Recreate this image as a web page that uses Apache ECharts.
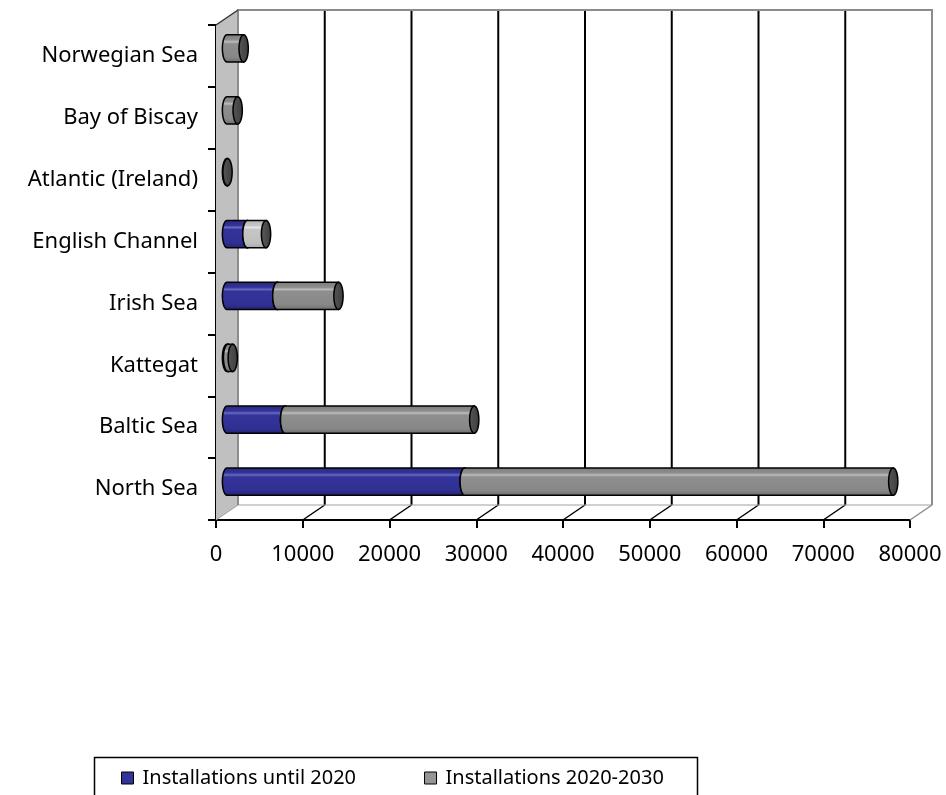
<!DOCTYPE html>
<html>
<head>
<meta charset="utf-8">
<script src="https://cdn.jsdelivr.net/npm/echarts@6/dist/echarts.min.js"></script>
<style>
  html, body { margin: 0; padding: 0; background: #ffffff; }
  #chart { width: 946px; height: 795px; }
</style>
</head>
<body>
<div id="chart"></div>
<script>
// Offshore wind capacity by sea basin (MW), bottom to top on the category axis
const regions = ['North Sea', 'Baltic Sea', 'Kattegat', 'Irish Sea', 'English Channel',
                 'Atlantic (Ireland)', 'Bay of Biscay', 'Norwegian Sea'];
const untilIn2020 = [27400, 6700, 120, 5800, 2350, 0, 0, 0];
const from2020To2030 = [49400, 21800, 540, 7050, 2150, 60, 1230, 1920];
const seriesNames = ['Installations until 2020', 'Installations 2020-2030'];
const AXIS_MAX = 80000;
const AXIS_STEP = 10000;

const FONT = 'Noto Sans';
const DEPTH_X = 22;   // horizontal shift of the back wall
const DEPTH_Y = -15;  // vertical shift of the back wall

const palettes = {
  blue: { stops: ['#28287e', '#33339a', '#6b6bbf', '#33339a', '#303094', '#222270'], cap: '#2c2c8a' },
  gray: { stops: ['#7b7b7b', '#8e8e8e', '#bdbdbd', '#8e8e8e', '#888888', '#6c6c6c'], cap: '#575757' },
  light: { stops: ['#b4b4b4', '#c6c6c6', '#e6e6e6', '#c6c6c6', '#bfbfbf', '#a8a8a8'], cap: '#5c5c5c' }
};
// the English Channel future segment is shown in a lighter grey
const lightSegments = { 'English Channel': true };

function bodyGradient(stops) {
  return new echarts.graphic.LinearGradient(0, 0, 0, 1, [
    { offset: 0, color: stops[0] },
    { offset: 0.2, color: stops[1] },
    { offset: 0.27, color: stops[2] },
    { offset: 0.34, color: stops[3] },
    { offset: 0.8, color: stops[4] },
    { offset: 1, color: stops[5] }
  ]);
}

function halfEllipse(cx, cy, rx, ry, fromDeg, toDeg, steps) {
  const pts = [];
  for (let i = 0; i <= steps; i++) {
    const a = (fromDeg + (toDeg - fromDeg) * i / steps) * Math.PI / 180;
    pts.push([cx + rx * Math.cos(a), cy + ry * Math.sin(a)]);
  }
  return pts;
}

function makeCylinderRenderer(paletteName) {
  return function (params, api) {
    const start = api.value(0);
    const end = api.value(1);
    const idx = api.value(2);
    if (!(end - start > 0)) return;
    const p0 = api.coord([start, idx]);
    const p1 = api.coord([end, idx]);
    const band = api.size([0, 1])[1];
    const ry = band * 0.22;
    const rx = ry * 0.34;
    const x0 = p0[0] + DEPTH_X / 2;
    const x1 = p1[0] + DEPTH_X / 2;
    const cy = p0[1] + DEPTH_Y / 2;
    let pal = palettes[paletteName];
    if (paletteName === 'gray' && lightSegments[regions[idx]]) pal = palettes.light;

    // body: rectangle closed on the left by the near half of the end ellipse
    const body = [[x0, cy - ry], [x1, cy - ry], [x1, cy + ry], [x0, cy + ry]]
      .concat(halfEllipse(x0, cy, rx, ry, 90, 270, 18));
    const cap = halfEllipse(x1, cy, rx, ry, 0, 360, 36);
    return {
      type: 'group',
      children: [
        { type: 'polygon', shape: { points: body },
          style: { fill: bodyGradient(pal.stops), stroke: '#000', lineWidth: 1.5 } },
        { type: 'polygon', shape: { points: cap },
          style: { fill: new echarts.graphic.LinearGradient(0, 0, 1, 0, [
                     { offset: 0, color: pal.cap }, { offset: 1, color: '#3c3c3c' }]),
                   stroke: '#000', lineWidth: 1.5 } }
      ]
    };
  };
}

// side wall, back wall, floor and back gridlines of the 3D frame
function renderFrame(params, api) {
  const cs = params.coordSys;
  const L = cs.x, T = cs.y, R = cs.x + cs.width, B = cs.y + cs.height;
  const dx = DEPTH_X, dy = DEPTH_Y;
  const kids = [];
  kids.push({ type: 'polygon', shape: { points: [[L, T], [L + dx, T + dy], [L + dx, B + dy], [L, B]] },
              style: { fill: '#c0c0c0' } });
  for (let v = AXIS_STEP; v < AXIS_MAX; v += AXIS_STEP) {
    const x = api.coord([v, 0])[0];
    kids.push({ type: 'line', shape: { x1: x + dx, y1: T + dy, x2: x + dx, y2: B + dy },
                style: { stroke: '#000', lineWidth: 2 } });
    kids.push({ type: 'line', shape: { x1: x, y1: B, x2: x + dx, y2: B + dy },
                style: { stroke: '#000', lineWidth: 1.5 } });
  }
  kids.push({ type: 'line', shape: { x1: L + dx, y1: B + dy, x2: R + dx, y2: B + dy },
              style: { stroke: '#a0a0a0', lineWidth: 1 } });
  kids.push({ type: 'line', shape: { x1: L, y1: B, x2: L + dx, y2: B + dy },
              style: { stroke: '#a0a0a0', lineWidth: 1 } });
  kids.push({ type: 'line', shape: { x1: R, y1: B, x2: R + dx, y2: B + dy },
              style: { stroke: '#8c8c8c', lineWidth: 1.5 } });
  kids.push({ type: 'polyline', shape: { points: [[L + dx, B + dy], [L + dx, T + dy], [R + dx, T + dy], [R + dx, B + dy]] },
              style: { fill: null, stroke: '#8c8c8c', lineWidth: 2 } });
  kids.push({ type: 'line', shape: { x1: L, y1: T, x2: L + dx, y2: T + dy },
              style: { stroke: '#333', lineWidth: 1.5 } });
  return { type: 'group', children: kids };
}

const blueData = regions.map((r, i) => [0, untilIn2020[i], i]);
const grayData = regions.map((r, i) => [untilIn2020[i], untilIn2020[i] + from2020To2030[i], i]);

const chart = echarts.init(document.getElementById('chart'), null, { renderer: 'canvas' });
chart.setOption({
  animation: false,
  backgroundColor: '#ffffff',
  grid: { left: 216, right: 36, top: 25, bottom: 275, containLabel: false },
  xAxis: {
    type: 'value', min: 0, max: AXIS_MAX, interval: AXIS_STEP,
    axisLine: { show: true, lineStyle: { color: '#000', width: 2 } },
    axisTick: { show: true, length: 8, lineStyle: { color: '#000', width: 2 } },
    splitLine: { show: false },
    axisLabel: { color: '#000', fontFamily: FONT, fontSize: 22, margin: 24,
                 formatter: (v) => String(v) }
  },
  yAxis: {
    type: 'category', data: regions,
    axisLine: { show: true, lineStyle: { color: '#000', width: 2 } },
    axisTick: { show: true, length: 8, lineStyle: { color: '#000', width: 2 } },
    axisLabel: { color: '#000', fontFamily: FONT, fontSize: 22, margin: 18 }
  },
  legend: {
    data: seriesNames,
    left: 121, top: 768, padding: 0,
    icon: 'rect', itemWidth: 12, itemHeight: 12, itemGap: 68,
    itemStyle: { borderColor: '#000', borderWidth: 1 },
    textStyle: { color: '#000', fontFamily: FONT, fontSize: 20, padding: [0, 0, 0, 4] }
  },
  graphic: [{
    type: 'rect', left: 92, top: 755, shape: { width: 603, height: 80 },
    style: { fill: 'none', stroke: '#000', lineWidth: 1.5 }, silent: true
  }],
  series: [
    { type: 'custom', coordinateSystem: 'cartesian2d', renderItem: renderFrame,
      data: [[0, 0]], silent: true, z: 1 },
    { type: 'custom', name: seriesNames[0], coordinateSystem: 'cartesian2d',
      renderItem: makeCylinderRenderer('blue'), itemStyle: { color: '#333399' },
      encode: { x: [0, 1], y: 2 }, data: blueData, z: 3 },
    { type: 'custom', name: seriesNames[1], coordinateSystem: 'cartesian2d',
      renderItem: makeCylinderRenderer('gray'), itemStyle: { color: '#969696' },
      encode: { x: [0, 1], y: 2 }, data: grayData, z: 3 }
  ]
});
</script>
</body>
</html>
